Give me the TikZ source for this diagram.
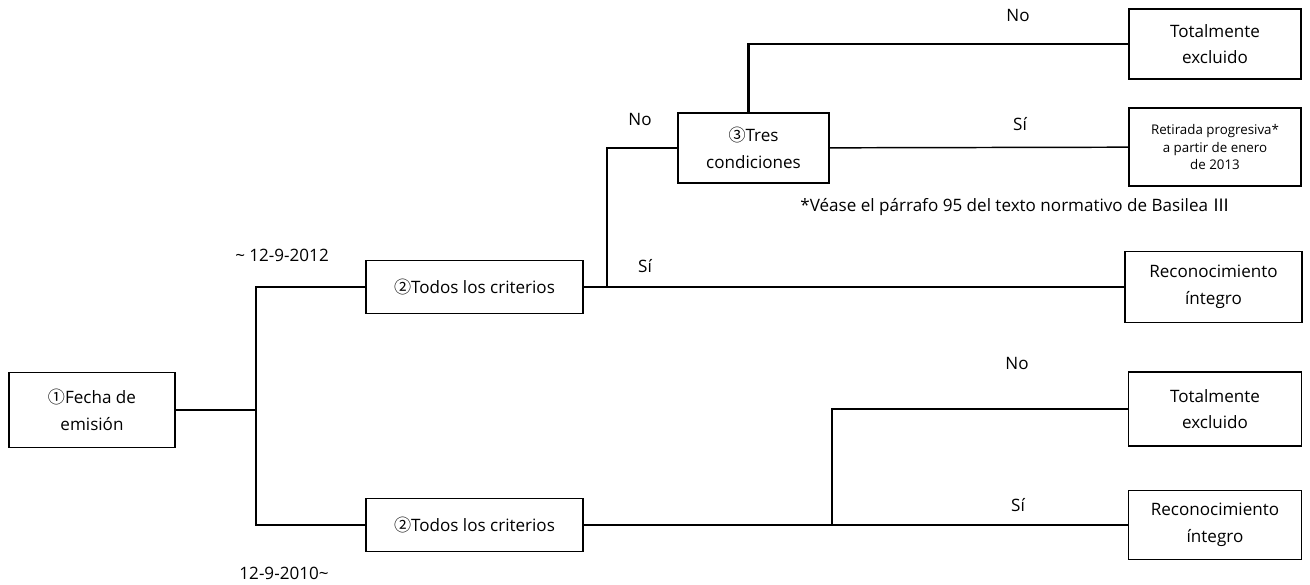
\documentclass[tikz,border=0pt]{standalone}
\usepackage{fontspec}
\setmainfont{Open Sans}
\newfontfamily\cjk{Noto Sans CJK JP}
\usetikzlibrary{positioning}
\usetikzlibrary{calc}

\begin{document}
\begin{tikzpicture}[x=0.75pt, y=-0.75pt,
        box/.style={draw, rectangle, line width=1.1pt, align=center, inner sep=0pt,
            font=\fontsize{12.8}{20}\selectfont},
        smallbox/.style={box, font=\fontsize{10}{13}\selectfont},
        lbl/.style={font=\fontsize{12.8}{14}\selectfont, inner sep=0pt},
        branch/.style={line width=1.1pt},
        thinbranch/.style={line width=0.9pt},
        thickbranch/.style={line width=2pt}]
        \useasboundingbox (0,0) rectangle (1310,585);

        % cajas de decision
        \node[box, minimum width=124.5pt, minimum height=56pt] (fecha) at (92,410)
            {{\cjk ①}Fecha de\\emisión};
        \node[box, minimum width=163pt, minimum height=40pt] (todosA) at (474.5,287)
            {{\cjk ②}Todos los criterios};
        \node[box, minimum width=163pt, minimum height=40pt] (todosB) at (474.5,525)
            {{\cjk ②}Todos los criterios};
        \node[box, minimum width=113pt, minimum height=52.5pt] (tres) at (753.5,148)
            {{\cjk ③}Tres\\condiciones};

        % resultados
        \node[box, minimum width=129pt, minimum height=52.5pt] (totA) at (1215,44)
            {Totalmente\\excluido};
        \node[smallbox, minimum width=129pt, minimum height=58.5pt] (retirada) at (1215,147)
            {Retirada progresiva*\\a partir de enero\\de 2013};
        \node[box, minimum width=133pt, minimum height=53pt] (recA) at (1213.5,287)
            {Reconocimiento\\íntegro};
        \node[box, minimum width=130pt, minimum height=55.5pt] (totB) at (1215,409)
            {Totalmente\\excluido};
        \node[box, minimum width=130pt, minimum height=52pt] (recB) at (1215,525)
            {Reconocimiento\\íntegro};

        % puntos de bifurcacion
        \coordinate (jFecha) at (256,410);
        \coordinate (jTodos) at (607,287);
        \coordinate (jBajo) at (832,525);

        \draw[branch] (fecha) -- (jFecha);
        \draw[branch] (todosA) -| (jFecha) |- (todosB);
        \draw[branch] (todosA) -- (recA);
        \draw[branch] (jTodos) |- (tres);
        \draw[thickbranch] ([xshift=-4pt]tres.north) |- (totA);
        \draw[branch] (tres) -- (retirada);
        \draw[thinbranch] (todosB) -- (recB);
        \draw[thinbranch] (jBajo) |- (totB);

        % etiquetas
        \node[lbl] (noA) at (1018,15) {No};
        \node[lbl] (siA) at (1020,124) {Sí};
        \node[lbl] (noB) at (640,119) {No};
        \node[lbl] (siB) at (645,266) {Sí};
        \node[lbl] (noC) at (1017,363) {No};
        \node[lbl] (siC) at (1018,505) {Sí};
        \node[lbl] (hasta) at (282,255) {\textasciitilde{} 12-9-2012};
        \node[lbl] (desde) at (284,573) {12-9-2010\textasciitilde};
        \node[lbl] (nota) at (1015,207) {*Véase el párrafo 95 del texto normativo de Basilea {\cjk Ⅲ}};
    \end{tikzpicture}
\end{document}
